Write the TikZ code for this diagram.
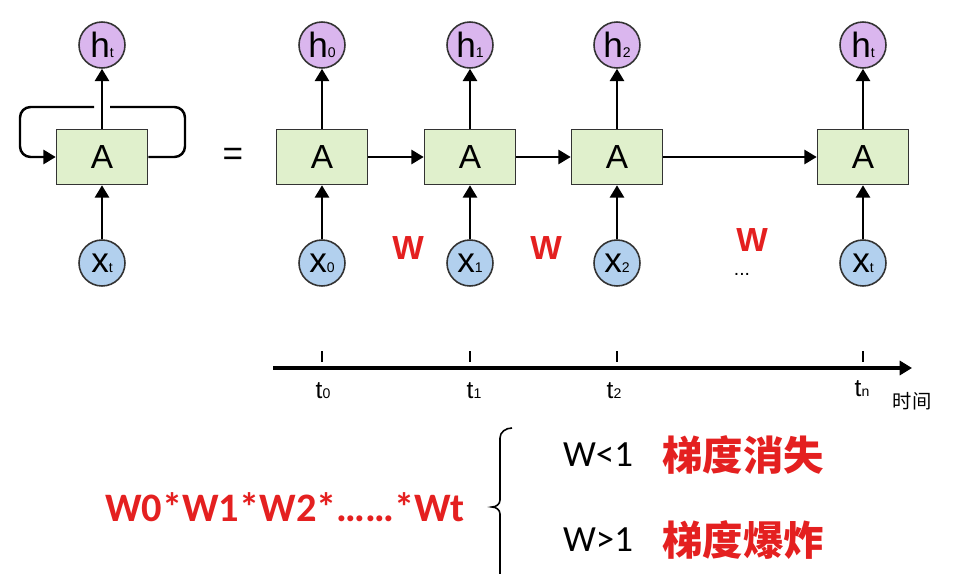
\documentclass[tikz,border=0pt]{standalone}
\usepackage{fontspec}
\usepackage{xcolor}
\setmainfont{Liberation Sans}
\newfontfamily\cjk{Noto Sans CJK SC}
\newfontfamily\calfont{Carlito}
\definecolor{cellgreen}{RGB}{224,240,204}
\definecolor{hidpurple}{RGB}{218,182,238}
\definecolor{inpblue}{RGB}{178,208,238}
\definecolor{wred}{RGB}{228,32,32}
\usetikzlibrary{arrows.meta,calc}
\newcommand{\sub}[1]{{\fontsize{8}{8}\selectfont #1}}

\begin{document}
\begin{tikzpicture}[x=0.02cm,y=-0.02cm,
    cell/.style={draw=black!80, line width=0.9pt, fill=cellgreen, minimum width=1.82cm, minimum height=1.1cm, font=\fontsize{19}{19}\selectfont},
    hid/.style={circle, draw=black!80, line width=0.9pt, fill=hidpurple, minimum size=0.92cm, inner sep=0pt, font=\fontsize{20}{20}\selectfont},
    inp/.style={circle, draw=black!80, line width=0.9pt, fill=inpblue, minimum size=0.92cm, inner sep=0pt, font=\fontsize{20}{20}\selectfont},
    flow/.style={line width=1.4pt, -{Triangle[length=7pt,width=8pt]}},
    wlab/.style={text=wred, inner sep=0pt, text depth=0pt, font=\bfseries\fontsize{19}{19}\selectfont},
    tlab/.style={font=\fontsize{14}{14}\selectfont}]
    \useasboundingbox (0,0) rectangle (957,574);

    % folded cell
    \node[cell] (A) at (102,157) {A};
    \node[hid] (h) at (102,45) {h\sub{t}};
    \node[inp] (x) at (102,263) {x\sub{t}};
    \draw[flow] (x) -- (A);
    \draw[flow] (A) -- (h);
    \coordinate (loopR) at (185,107);
    \coordinate (loopL) at (20,107);
    \coordinate (gapR) at (110,107);
    \coordinate (gapL) at (94,107);
    \draw[line width=1.4pt, rounded corners=6pt] (A.east) -| (loopR) -- (gapR);
    \draw[flow, rounded corners=6pt] (gapL) -- (loopL) |- (A.west);
    \node[font=\fontsize{20}{20}\selectfont] (eq) at (233,157) {=};

    % unrolled cells
    \foreach \i/\px/\s in {0/322/0,1/470/1,2/617/2,n/863/t} {
        \node[cell] (c\i) at (\px,157) {A};
        \node[hid] (h\i) at (\px,45) {h\sub{\s}};
        \node[inp] (x\i) at (\px,263) {x\sub{\s}};
        \draw[flow] (x\i) -- (c\i);
        \draw[flow] (c\i) -- (h\i);
    }
    \draw[flow] (c0) -- (c1);
    \draw[flow] (c1) -- (c2);
    \draw[flow] (c2) -- (cn);
    \node[wlab] (w1) at (408,248) {W};
    \node[wlab] (w2) at (546,248) {W};
    \node[wlab] (w3) at (752,240) {W};
    \node[inner sep=0pt, text height=2pt, text depth=0pt] (dots) at (742,274) {\fontsize{11}{11}\selectfont...};

    % time axis
    \coordinate (ts) at (273,368);
    \coordinate (te) at (912,368);
    \draw[flow, line width=1.8pt] (ts) -- (te);
    \foreach \px in {322,470,617,863}
        \draw[line width=1.4pt] (\px,351) -- (\px,362);
    \node[tlab] (t0) at (323,391) {t\sub{0}};
    \node[tlab] (t1) at (474,391) {t\sub{1}};
    \node[tlab] (t2) at (614,391) {t\sub{2}};
    \node[tlab] (tn) at (862,389) {t\sub{n}};
    \node[font=\cjk\fontsize{11}{11}\selectfont] (time) at (912,401) {时间};

    % product and cases
    \node[text=wred, font=\calfont\bfseries\fontsize{23}{23}\selectfont] (prod) at (285,507) {W0*W1*W2*……*Wt};
    \draw[line width=0.9pt] (512,428) to[out=180,in=90] (500,438) -- (500,500)
        to[out=-90,in=0] (492,507) to[out=0,in=90] (500,514) -- (500,574);
    \node[font=\calfont\fontsize{21}{21}\selectfont] (lt) at (598,455) {W<1};
    \node[font=\calfont\fontsize{21}{21}\selectfont] (gt) at (598,540) {W>1};
    \node[text=wred, font=\cjk\bfseries\fontsize{23}{23}\selectfont] (van) at (743,455) {梯度消失};
    \node[text=wred, font=\cjk\bfseries\fontsize{23}{23}\selectfont] (exp) at (743,540) {梯度爆炸};
\end{tikzpicture}
\end{document}
